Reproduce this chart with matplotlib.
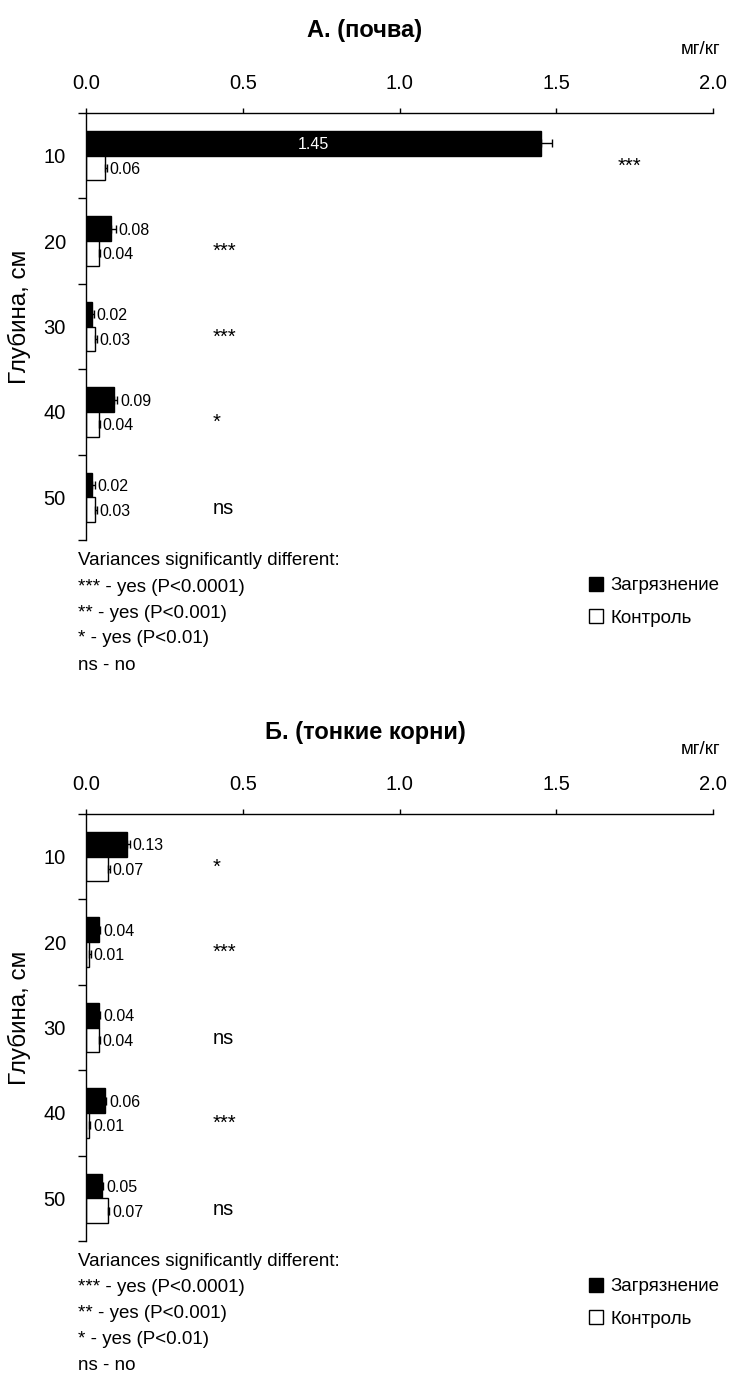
import numpy as np
import matplotlib
matplotlib.use('Agg')
import matplotlib.pyplot as plt

plt.rcParams['font.family'] = ['Liberation Sans', 'DejaVu Sans']

# data
depths = ['10', '20', '30', '40', '50']
x_ticks = [0.0, 0.5, 1.0, 1.5, 2.0]

soil_polluted = [1.45, 0.08, 0.02, 0.09, 0.02]
soil_polluted_err = [0.035, 0.015, 0.005, 0.01, 0.008]
soil_control = [0.06, 0.04, 0.03, 0.04, 0.03]
soil_control_err = [0.006, 0.004, 0.004, 0.004, 0.004]
soil_signif = ['***', '***', '***', '*', 'ns']

roots_polluted = [0.13, 0.04, 0.04, 0.06, 0.05]
roots_polluted_err = [0.01, 0.005, 0.005, 0.005, 0.005]
roots_control = [0.07, 0.01, 0.04, 0.01, 0.07]
roots_control_err = [0.006, 0.005, 0.004, 0.004, 0.004]
roots_signif = ['*', '***', 'ns', '***', 'ns']

legend_lines = ['Variances significantly different:',
                '*** - yes (P<0.0001)',
                '** - yes (P<0.001)',
                '* - yes (P<0.01)',
                'ns - no']

W, H = 730, 1375
fig = plt.figure(figsize=(W / 100, H / 100), dpi=100)


def fy(py):
    return 1 - py / H


def draw_panel(top_px, title, polluted, polluted_err, control, control_err, signif):
    ax_h = 427
    ax = fig.add_axes([86 / W, fy(top_px + ax_h), 627 / W, ax_h / H])
    y = np.arange(len(depths))
    h = 0.29
    zeros = np.zeros(len(depths))

    bars_p = ax.barh(y - h / 2, polluted, height=h, color='black', edgecolor='black',
                     linewidth=1, label='Загрязнение')
    bars_c = ax.barh(y + h / 2, control, height=h, color='white', edgecolor='black',
                     linewidth=1, label='Контроль')
    ax.errorbar(polluted, y - h / 2, xerr=[zeros, polluted_err], fmt='none',
                ecolor='black', elinewidth=1, capsize=3, capthick=1)
    ax.errorbar(control, y + h / 2, xerr=[zeros, control_err], fmt='none',
                ecolor='black', elinewidth=1, capsize=3, capthick=1)

    for vals, errs, off in [(polluted, polluted_err, -h / 2), (control, control_err, h / 2)]:
        for i, (v, e) in enumerate(zip(vals, errs)):
            if v > 0.5:
                ax.text(v / 2, i + off, f'{v:.2f}', color='white', ha='center',
                        va='center_baseline', fontsize=11.5)
            else:
                ax.annotate(f'{v:.2f}', xy=(v + e, i + off), xytext=(2, 0),
                            textcoords='offset points', ha='left',
                            va='center_baseline', fontsize=11.5)

    for i, s in enumerate(signif):
        sx = max(0.405, polluted[i] + polluted_err[i] + 0.21)
        ax.text(sx, i + 0.19, s, ha='left', va='baseline', fontsize=14.5)

    ax.set_xlim(0, 2)
    ax.set_ylim(4.5, -0.5)
    ax.xaxis.tick_top()
    ax.set_xticks(x_ticks)
    ax.set_xticklabels([f'{t:.1f}' for t in x_ticks])
    ax.tick_params(axis='x', direction='out', length=3.6, width=1, pad=11, labelsize=14.5)

    ax.set_yticks(np.arange(-0.5, len(depths), 1))
    ax.set_yticklabels([])
    ax.set_yticks(y, minor=True)
    ax.set_yticklabels(depths, minor=True)
    ax.tick_params(axis='y', which='major', direction='out', length=5.8, width=1)
    ax.tick_params(axis='y', which='minor', length=0, pad=14.4, labelsize=14.5)

    for side in ['right', 'bottom']:
        ax.spines[side].set_visible(False)
    for side in ['left', 'top']:
        ax.spines[side].set_linewidth(1)

    fig.text(0.5, fy(top_px - 82), title, ha='center', va='center',
             fontsize=17, fontweight='bold')
    fig.text(720 / W, fy(top_px - 64), 'мг/кг', ha='right', va='center', fontsize=13.5)
    fig.text(19 / W, fy(top_px + ax_h / 2 - 10), 'Глубина, см', rotation=90,
             ha='center', va='center', fontsize=17.5)

    for k, line in enumerate(legend_lines):
        fig.text(78 / W, fy(top_px + 448 + 26 * k), line, ha='left', va='center', fontsize=13.5)

    ax.legend(handles=[bars_p, bars_c], loc='upper left',
              bbox_to_anchor=(589 / W, fy(top_px + 464)), bbox_transform=fig.transFigure,
              frameon=False, fontsize=13.5, handlelength=0.75, handleheight=0.75,
              handletextpad=0.4, labelspacing=0.8, borderpad=0, borderaxespad=0)
    return ax


draw_panel(113, 'А. (почва)', soil_polluted, soil_polluted_err,
           soil_control, soil_control_err, soil_signif)
draw_panel(814, 'Б. (тонкие корни)', roots_polluted, roots_polluted_err,
           roots_control, roots_control_err, roots_signif)

fig.savefig('out.png', dpi=100)
